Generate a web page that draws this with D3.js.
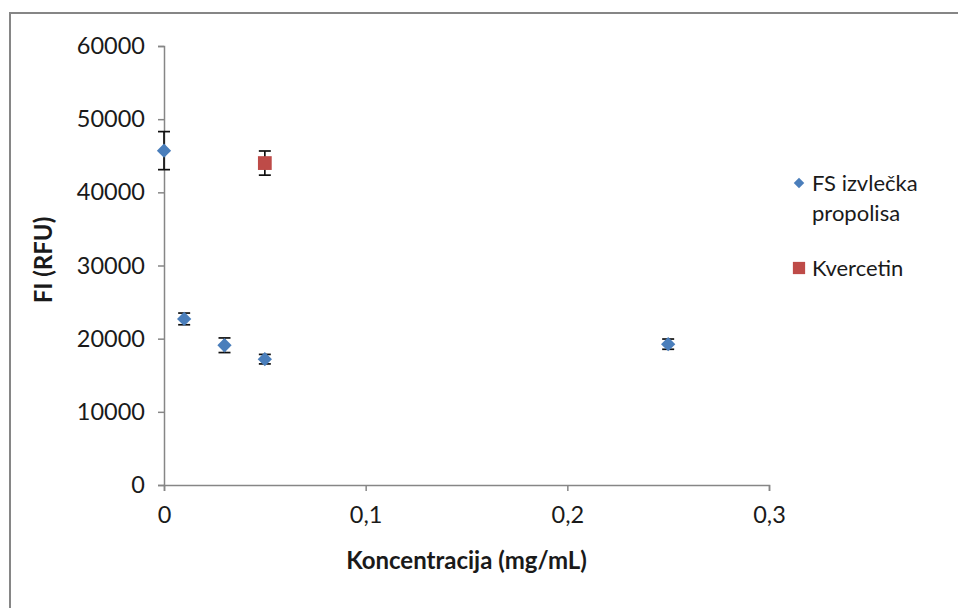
<!DOCTYPE html>
<html>
<head>
<meta charset="utf-8">
<script src="https://cdn.jsdelivr.net/npm/d3@7"></script>
<style>
  body { margin: 0; background: white; }
  svg { display: block; }
</style>
</head>
<body>
<div id="chart"></div>
<script>
// data
let extractX = [0, 0.01, 0.03, 0.05, 0.25];
let extractY = [45700, 22700, 19100, 17200, 19250];
let extractErr = [2600, 800, 1000, 650, 700];

let quercetinX = [0.05];
let quercetinY = [44000];
let quercetinErr = [1650];

let xTicks = [0, 0.1, 0.2, 0.3];
let yTicks = [0, 10000, 20000, 30000, 40000, 50000, 60000];

let legendNames = [["FS izvlečka", "propolisa"], ["Kvercetin"]];

let w = 958;
let h = 608;
let plotLeft = 164;
let plotRight = 769;
let plotTop = 46;
let plotBottom = 485;

let font = "Lato, 'Open Sans', sans-serif";
let blue = "#4a7ebb";
let red = "#be4b48";
let axisGrey = "#868686";

let viz = d3.select("#chart")
  .append("svg")
    .attr("width", w)
    .attr("height", h);

// outer chart border (only top and left are inside the picture)
viz.append("rect")
  .attr("x", 10)
  .attr("y", 13)
  .attr("width", w + 20)
  .attr("height", h + 20)
  .attr("fill", "white")
  .attr("stroke", axisGrey)
  .attr("stroke-width", 2);

let xScale = d3.scaleLinear().domain([0, 0.3]).range([plotLeft, plotRight]);
let yScale = d3.scaleLinear().domain([0, 60000]).range([plotBottom, plotTop]);

// axes
let xAxisGroup = viz.append("g")
  .attr("class", "xaxis")
  .attr("transform", "translate(0, " + plotBottom + ")")
  .call(d3.axisBottom(xScale)
    .tickValues(xTicks)
    .tickSize(6)
    .tickPadding(15)
    .tickFormat(d => d === 0 ? "0" : String(d).replace(".", ",")));

let yAxisGroup = viz.append("g")
  .attr("class", "yaxis")
  .attr("transform", "translate(" + plotLeft + ", 0)")
  .call(d3.axisLeft(yScale)
    .tickValues(yTicks)
    .tickSize(6)
    .tickPadding(13)
    .tickFormat(d => String(d)));

viz.selectAll(".xaxis path, .yaxis path")
  .attr("stroke", axisGrey)
  .attr("stroke-width", 1.5);
viz.selectAll(".xaxis .tick line, .yaxis .tick line")
  .attr("stroke", axisGrey)
  .attr("stroke-width", 1.5);
viz.selectAll(".xaxis .tick text, .yaxis .tick text")
  .attr("fill", "#1a1a1a")
  .style("font-family", font)
  .style("font-size", "23.5px");

// axis titles
viz.append("text")
  .text("Koncentracija (mg/mL)")
  .attr("x", (plotLeft + plotRight) / 2)
  .attr("y", 569)
  .attr("text-anchor", "middle")
  .attr("font-family", font)
  .attr("font-weight", "bold")
  .attr("font-size", "24px")
  .attr("fill", "#1a1a1a");

viz.append("text")
  .text("FI (RFU)")
  .attr("transform", "translate(52, 260) rotate(-90)")
  .attr("text-anchor", "middle")
  .attr("font-family", font)
  .attr("font-weight", "bold")
  .attr("font-size", "24px")
  .attr("fill", "#1a1a1a");

// error bars
function drawErrors(xs, ys, errs, cls){
  let points = xs.map((x, i) => ({x: x, y: ys[i], e: errs[i]}));
  let g = viz.append("g").attr("class", cls);
  let bars = g.selectAll("g").data(points).enter().append("g");
  bars.append("line")
    .attr("x1", d => xScale(d.x)).attr("x2", d => xScale(d.x))
    .attr("y1", d => yScale(d.y - d.e)).attr("y2", d => yScale(d.y + d.e));
  bars.append("line")
    .attr("x1", d => xScale(d.x) - 6).attr("x2", d => xScale(d.x) + 6)
    .attr("y1", d => yScale(d.y + d.e)).attr("y2", d => yScale(d.y + d.e));
  bars.append("line")
    .attr("x1", d => xScale(d.x) - 6).attr("x2", d => xScale(d.x) + 6)
    .attr("y1", d => yScale(d.y - d.e)).attr("y2", d => yScale(d.y - d.e));
  g.selectAll("line")
    .attr("stroke", "#111")
    .attr("stroke-width", 1.7);
}

drawErrors(extractX, extractY, extractErr, "extractErrors");
drawErrors(quercetinX, quercetinY, quercetinErr, "quercetinErrors");

// markers
let diamond = d3.symbol().type(d3.symbolDiamond2).size(130);
let square = d3.symbol().type(d3.symbolSquare).size(190);

viz.append("g").selectAll("path")
  .data(extractX.map((x, i) => ({x: x, y: extractY[i]})))
  .enter().append("path")
    .attr("d", diamond)
    .attr("transform", d => "translate(" + xScale(d.x) + ", " + yScale(d.y) + ")")
    .attr("fill", blue);

viz.append("g").selectAll("path")
  .data(quercetinX.map((x, i) => ({x: x, y: quercetinY[i]})))
  .enter().append("path")
    .attr("d", square)
    .attr("transform", d => "translate(" + xScale(d.x) + ", " + yScale(d.y) + ")")
    .attr("fill", red);

// legend
let legend = viz.append("g").attr("class", "legend");

legend.append("path")
  .attr("d", d3.symbol().type(d3.symbolDiamond2).size(70))
  .attr("transform", "translate(799, 183)")
  .attr("fill", blue);

legend.append("path")
  .attr("d", d3.symbol().type(d3.symbolSquare).size(150))
  .attr("transform", "translate(799, 268)")
  .attr("fill", red);

let legendY = [[191, 221], [276]];
legendNames.forEach((lines, i) => {
  lines.forEach((line, j) => {
    legend.append("text")
      .text(line)
      .attr("x", 812)
      .attr("y", legendY[i][j])
      .attr("font-family", font)
      .attr("font-size", "22px")
      .attr("fill", "#1a1a1a");
  });
});
</script>
</body>
</html>
